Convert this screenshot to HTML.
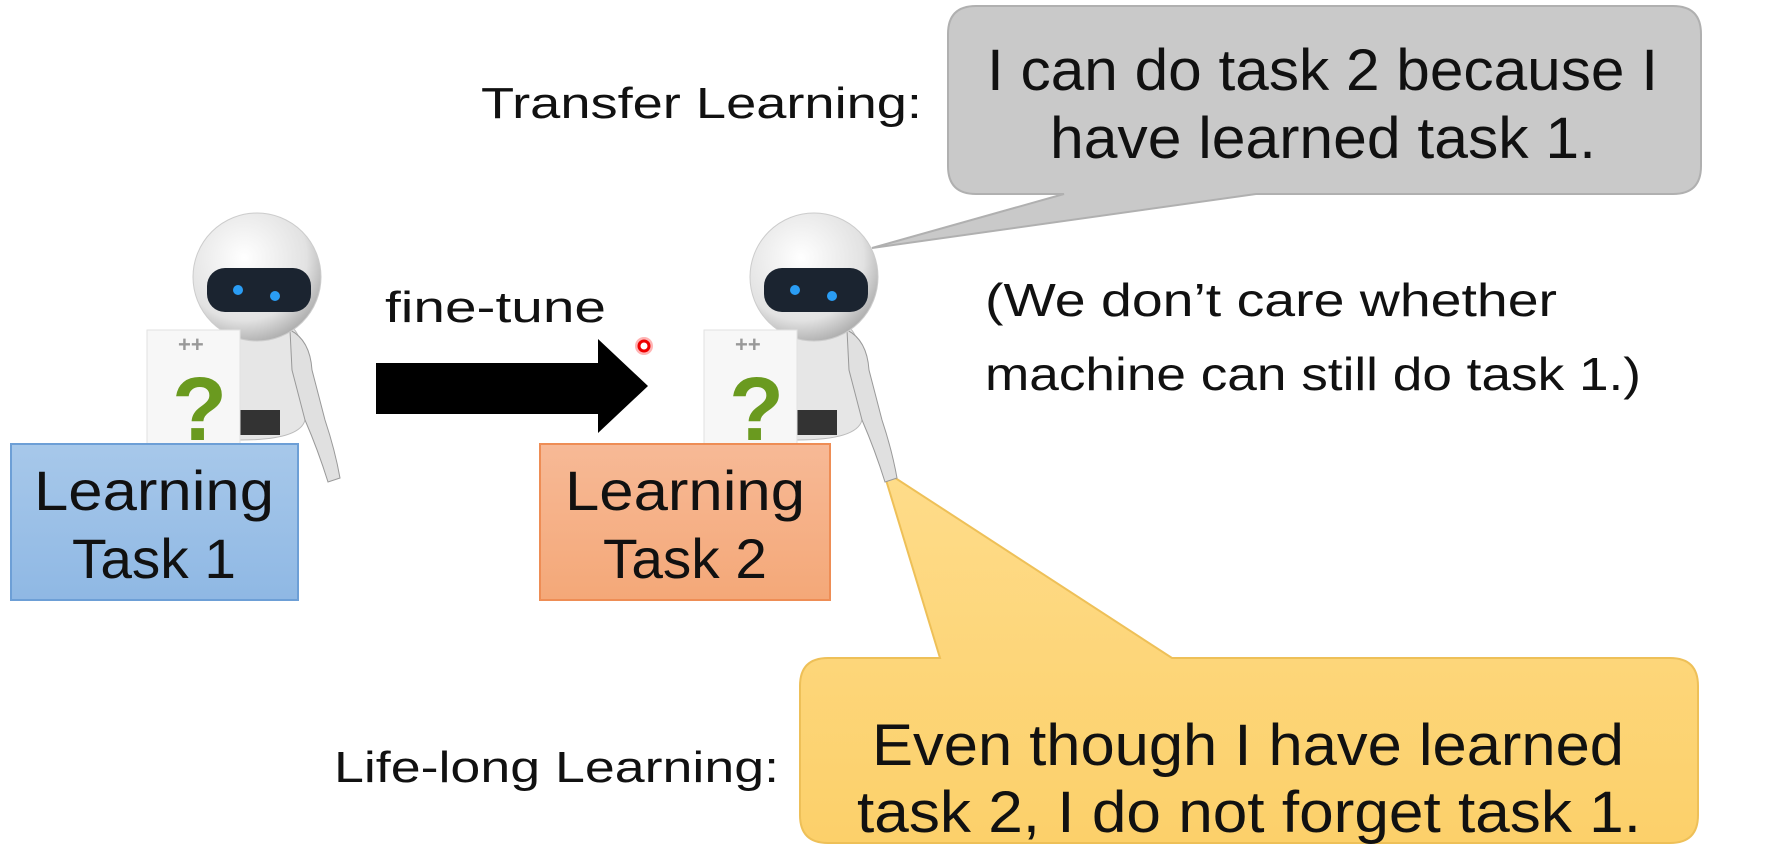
<!DOCTYPE html>
<html><head><meta charset="utf-8"><style>html,body{margin:0;padding:0;background:#fff;}svg{display:block}</style></head>
<body>
<svg width="1766" height="849" viewBox="0 0 1766 849" xmlns="http://www.w3.org/2000/svg" font-family="'Liberation Sans', sans-serif">
<defs>
<radialGradient id="hg" cx="0.4" cy="0.35" r="0.7"><stop offset="0" stop-color="#ffffff"/><stop offset="0.7" stop-color="#e2e2e2"/><stop offset="1" stop-color="#a8a8a8"/></radialGradient>
<linearGradient id="bg" x1="0" y1="0" x2="0" y2="1"><stop offset="0" stop-color="#a7c8ea"/><stop offset="1" stop-color="#8fb8e4"/></linearGradient>
<linearGradient id="og" x1="0" y1="0" x2="0" y2="1"><stop offset="0" stop-color="#f7b996"/><stop offset="1" stop-color="#f4a878"/></linearGradient>
<linearGradient id="yg" x1="0" y1="0" x2="0" y2="1"><stop offset="0" stop-color="#fedc8a"/><stop offset="1" stop-color="#fcd06a"/></linearGradient>
<g id="robot">
  <path d="M240 320 Q290 310 300 340 L305 420 Q300 440 240 440 Z" fill="#e6e6e6" stroke="#bbb"/>
  <path d="M290 330 Q310 340 312 370 L325 420 Q335 450 340 478 L328 482 Q318 450 305 420 L292 370 Z" fill="#e0e0e0" stroke="#999"/>
  <rect x="240" y="410" width="40" height="25" fill="#333"/>
  <circle cx="257" cy="277" r="64" fill="url(#hg)" stroke="#ccc"/>
  <rect x="207" y="268" width="104" height="44" rx="18" fill="#1b2430"/>
  <circle cx="238" cy="290" r="5" fill="#2a9df4"/>
  <circle cx="275" cy="296" r="5" fill="#2a9df4"/>
  <rect x="147" y="330" width="93" height="120" fill="#f7f7f7" stroke="#e2e2e2"/>
  <text x="178" y="352" font-size="22" fill="#999" font-weight="bold">++</text>
  <text x="172" y="440" font-size="90" font-weight="bold" fill="#6a9a1f">?</text>
</g>
</defs>

<!-- gray bubble -->
<path d="M976 6 H1673 Q1701 6 1701 34 V166 Q1701 194 1673 194 H1256 L872 248 L1064 194 H976 Q948 194 948 166 V34 Q948 6 976 6 Z" fill="#c9c9c9" stroke="#b0b0b0" stroke-width="2"/>
<text x="987" y="90" font-size="58" fill="#111" textLength="671" lengthAdjust="spacingAndGlyphs">I can do task 2 because I</text>
<text x="1050" y="158" font-size="58" fill="#111" textLength="546" lengthAdjust="spacingAndGlyphs">have learned task 1.</text>
<text x="481" y="118" font-size="44" fill="#111" textLength="441" lengthAdjust="spacingAndGlyphs">Transfer  Learning:</text>

<!-- yellow bubble -->
<path d="M828 658 H940 L883 470 L1172 658 H1670 Q1698 658 1698 686 V815 Q1698 843 1670 843 H828 Q800 843 800 815 V686 Q800 658 828 658 Z" fill="url(#yg)" stroke="#eec058" stroke-width="2"/>
<text x="872" y="765" font-size="58" fill="#111" textLength="752" lengthAdjust="spacingAndGlyphs">Even though I have learned</text>
<text x="857" y="832" font-size="58" fill="#111" textLength="784" lengthAdjust="spacingAndGlyphs">task 2, I do not forget task 1.</text>
<text x="334" y="782" font-size="44" fill="#111" textLength="445" lengthAdjust="spacingAndGlyphs">Life-long Learning:</text>

<!-- robots -->
<use href="#robot"/>
<use href="#robot" transform="translate(557,0)"/>

<!-- boxes -->
<rect x="11" y="444" width="287" height="156" fill="url(#bg)" stroke="#6d9fd6" stroke-width="2"/>
<text x="154" y="510" font-size="56" fill="#111" text-anchor="middle" textLength="240" lengthAdjust="spacingAndGlyphs">Learning</text>
<text x="154" y="578" font-size="56" fill="#111" text-anchor="middle" textLength="164" lengthAdjust="spacingAndGlyphs">Task 1</text>
<rect x="540" y="444" width="290" height="156" fill="url(#og)" stroke="#ee8d55" stroke-width="2"/>
<text x="685" y="510" font-size="56" fill="#111" text-anchor="middle" textLength="240" lengthAdjust="spacingAndGlyphs">Learning</text>
<text x="685" y="578" font-size="56" fill="#111" text-anchor="middle" textLength="164" lengthAdjust="spacingAndGlyphs">Task 2</text>

<!-- arrow -->
<path d="M376 363 H598 V339 L648 386 L598 433 V414 H376 Z" fill="#000"/>
<text x="385" y="322" font-size="44" fill="#111" textLength="221" lengthAdjust="spacingAndGlyphs">fine-tune</text>
<circle cx="644" cy="346" r="9" fill="#ff6a6a" opacity="0.5"/>
<circle cx="644" cy="346" r="5" fill="#fff" stroke="#e00" stroke-width="3"/>

<text x="985" y="316" font-size="46" fill="#111" textLength="572" lengthAdjust="spacingAndGlyphs">(We don’t care whether</text>
<text x="985" y="390" font-size="46" fill="#111" textLength="656" lengthAdjust="spacingAndGlyphs">machine can still do task 1.)</text>
</svg>
</body></html>
